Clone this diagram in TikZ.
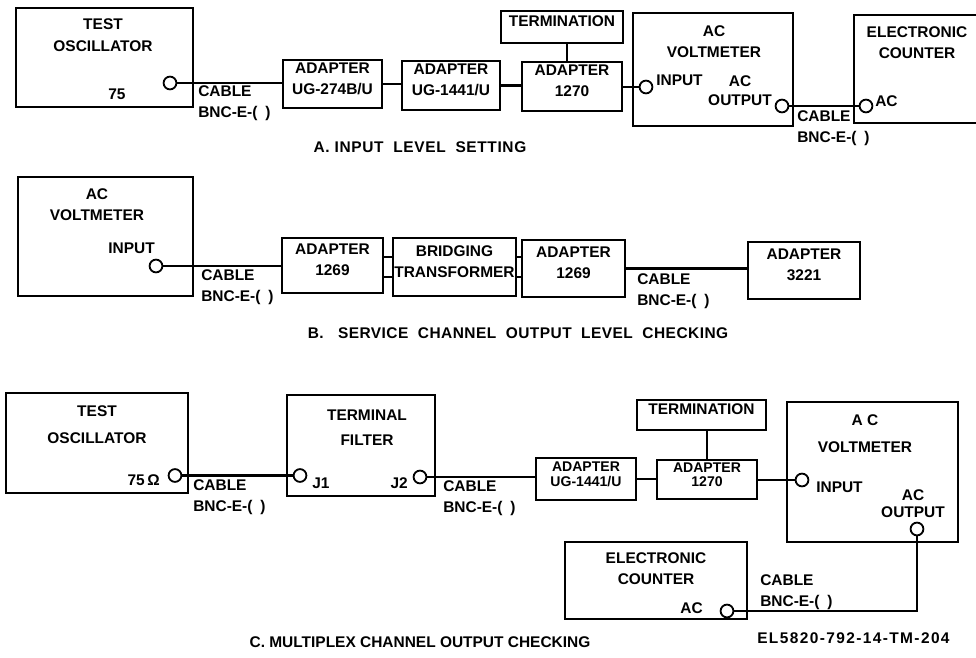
\documentclass[tikz,border=0pt]{standalone}
\usepackage{fontspec}
\setmainfont{Liberation Sans}
\usetikzlibrary{fit}
\newcommand{\lbl}{\bfseries\fontsize{11}{15}\selectfont}
\newcommand{\tight}{\bfseries\fontsize{10}{10.5}\selectfont}
\tikzset{
  unit/.style={draw, line width=1.5pt, inner sep=0pt, align=center, font=\lbl},
  jack/.style={circle, draw, fill=white, line width=1.3pt, minimum size=3.2mm, inner sep=0pt},
  txt/.style={inner sep=0pt, align=center, font=\lbl},
  cable/.style={inner sep=0pt, align=left, anchor=west, font=\lbl},
  wire/.style={line width=1.5pt}
}

\begin{document}
\begin{tikzpicture}[x=0.25mm, y=-0.25mm]
  \useasboundingbox (0,0) rectangle (976,658);

  \node[unit, fit={(16,8) (193,107)}] (oscA) {};
  \node[txt] (oscAt) at (103,35) {TEST\\[1pt]OSCILLATOR};
  \node[txt] (oscAz) at (117,94) {75};
  \node[jack] (jA1) at (170,83) {};
  \node[cable] (cabA1) at (198,103) {CABLE\\BNC-E-(\enspace)};
  \node[unit, fit={(283,60) (382,108)}] (adA1) {ADAPTER\\UG-274B/U};
  \node[unit, fit={(402,61) (500,110)}] (adA2) {ADAPTER\\UG-1441/U};
  \node[unit, fit={(522,62) (622,111)}] (adA3) {ADAPTER\\1270};
  \node[unit, fit={(501,11) (623,43)}] (termA) {TERMINATION};
  \node[unit, fit={(633,13) (793,126)}] (vmA) {};
  \node[txt] (vmAt) at (714,42) {AC\\VOLTMETER};
  \node[jack] (inA) at (646,87) {};
  \node[txt, anchor=west] (inAt) at (656,80.5) {INPUT};
  \node[txt, font=\bfseries\fontsize{11}{13.5}\selectfont] (outAt) at (740,90.5) {AC\\OUTPUT};
  \node[jack] (outA) at (782,106) {};
  \node[unit, fit={(854,15) (980,123)}] (cntA) {};
  \node[txt] (cntAt) at (917,43) {ELECTRONIC\\COUNTER};
  \node[jack] (acA) at (866,106) {};
  \node[txt, anchor=west] (acAt) at (875,101) {AC};
  \node[cable] (cabA2) at (797,128) {CABLE\\BNC-E-(\enspace)};
  \node[txt] (capA) at (420,147) {\addfontfeature{LetterSpace=4}A.~INPUT~ LEVEL~ SETTING};

  \draw[wire] (jA1) -- (jA1 -| adA1.west);
  \draw[wire] (adA1.east) -- (adA1.east -| adA2.west);
  \draw[wire] (adA2.east) -- (adA2.east -| adA3.west);
  \draw[wire] ([xshift=-1.25mm]adA3.north) -- ([xshift=-1.25mm]adA3.north |- termA.south);
  \draw[wire] (adA3.east |- inA) -- (inA);
  \draw[wire] (outA) -- (acA);

  \node[unit, fit={(18,177) (193,296)}] (vmB) {};
  \node[txt] (vmBt) at (97,205) {AC\\VOLTMETER};
  \node[txt, anchor=east] (inBt) at (155,248.5) {INPUT};
  \node[jack] (inB) at (156,266) {};
  \node[cable] (cabB1) at (201,287.5) {CABLE\\BNC-E-(\enspace)};
  \node[unit, fit={(282,238) (383,293)}] (adB1) {ADAPTER\\1269};
  \node[unit, fit={(393,238) (516,296)}] (trB) {BRIDGING\\TRANSFORMER};
  \node[unit, fit={(522,240) (625,297)}] (adB2) {ADAPTER\\1269};
  \node[unit, fit={(748,242) (860,299)}] (adB3) {ADAPTER\\3221};
  \node[cable] (cabB2) at (637,291) {CABLE\\BNC-E-(\enspace)};
  \node[txt] (capB) at (518,333) {\addfontfeature{LetterSpace=3}B.~~ SERVICE~ CHANNEL~ OUTPUT~ LEVEL~ CHECKING};

  \draw[wire] (inB) -- (inB -| adB1.west);
  \foreach \dy in {-2.5mm,2.5mm} {
    \draw[wire] ([yshift=\dy]trB.west) -- ([yshift=\dy]trB.west -| adB1.east);
    \draw[wire] ([yshift=\dy]trB.east) -- ([yshift=\dy]trB.east -| adB2.west);
  }
  \draw[wire] (adB2.east) -- (adB2.east -| adB3.west);

  \node[unit, fit={(6,393) (188,493)}] (oscC) {};
  \node[txt] (oscCt) at (97,425) {TEST\\[4pt]OSCILLATOR};
  \node[txt, anchor=east] (oscCz) at (160,480) {75\,Ω};
  \node[jack] (jC1) at (175,475.5) {};
  \node[cable] (cabC1) at (193,497.5) {CABLE\\BNC-E-(\enspace)};
  \node[unit, fit={(287,395) (435,496)}] (tfC) {};
  \node[txt] (tfCt) at (367,427.5) {TERMINAL\\[3pt]FILTER};
  \node[jack] (jC2) at (300,475.5) {};
  \node[txt, anchor=west] (jC2t) at (312,483) {J1};
  \node[jack] (jC3) at (420,477) {};
  \node[txt, anchor=east] (jC3t) at (408,483) {J2};
  \node[cable] (cabC2) at (443,498.5) {CABLE\\BNC-E-(\enspace)};
  \node[unit, fit={(536,458) (636,500)}, font=\tight] (adC1) {ADAPTER\\UG-1441/U};
  \node[unit, fit={(657,460) (757,499)}, font=\tight] (adC2) {ADAPTER\\1270};
  \node[unit, fit={(637,400) (766,430)}] (termC) {TERMINATION};
  \node[unit, fit={(787,402) (958,542)}] (vmC) {};
  \node[txt] (vmCt) at (865,433.5) {A C\\[4pt]VOLTMETER};
  \node[jack] (inC) at (802,480) {};
  \node[txt, anchor=west] (inCt) at (816,487) {INPUT};
  \node[txt, font=\bfseries\fontsize{11}{12}\selectfont] (outCt) at (913,504) {AC\\OUTPUT};
  \node[jack] (outC) at (917,529) {};
  \node[unit, fit={(565,542) (747,619)}] (cntC) {};
  \node[txt] (cntCt) at (656,569) {ELECTRONIC\\COUNTER};
  \node[txt, anchor=east] (acCt) at (703,608.5) {AC};
  \node[jack] (acC) at (727,611) {};
  \node[cable] (cabC3) at (760,592) {CABLE\\BNC-E-(\enspace)};
  \node[txt] (capC) at (420,642) {C. MULTIPLEX CHANNEL OUTPUT CHECKING};
  \node[txt, anchor=west] (figno) at (757,638) {\addfontfeature{LetterSpace=9}EL5820-792-14-TM-204};

  \draw[wire] (jC1) -- (jC2);
  \draw[wire] (jC3) -- (jC3 -| adC1.west);
  \draw[wire] (adC1.east) -- (adC1.east -| adC2.west);
  \draw[wire] (adC2.north) -- (adC2.north |- termC.south);
  \draw[wire] (adC2.east |- inC) -- (inC);
  \draw[wire] (outC) |- (acC);
\end{tikzpicture}
\end{document}
